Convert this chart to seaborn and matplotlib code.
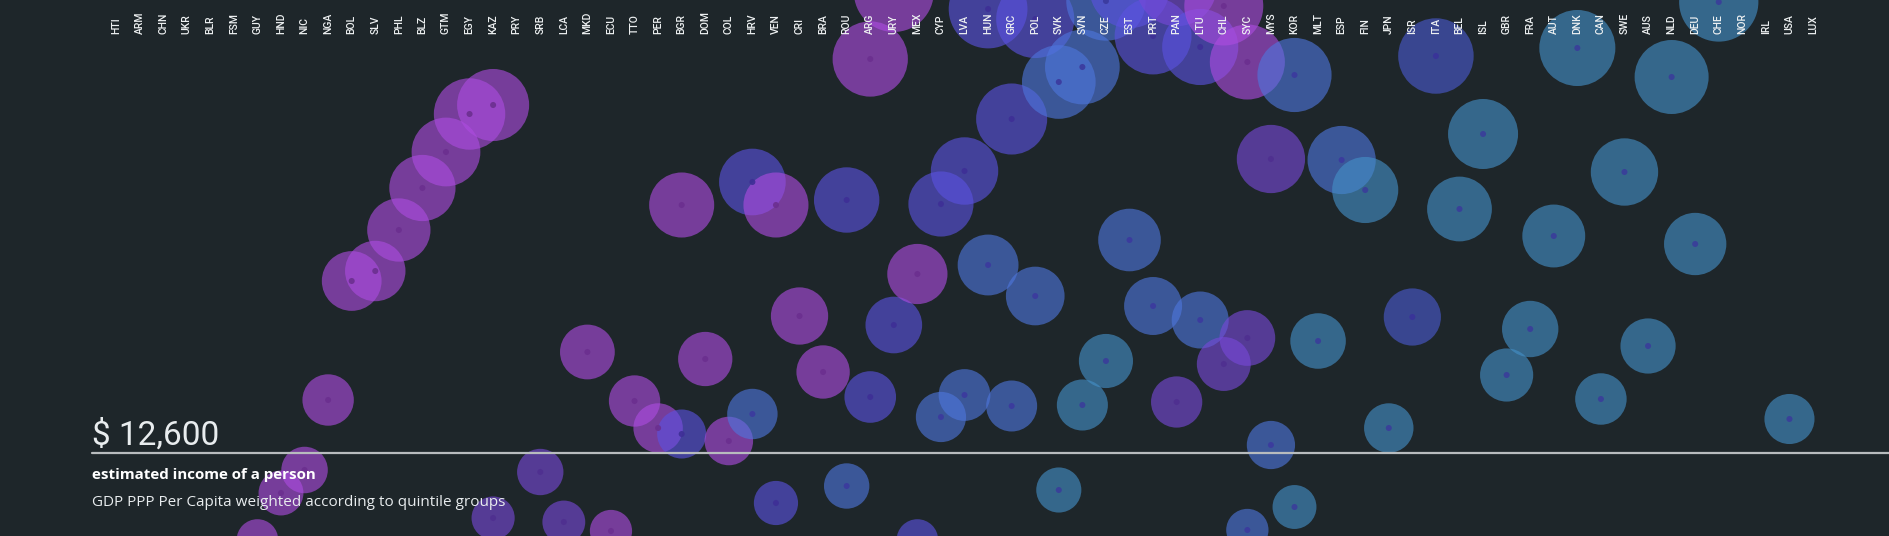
import numpy as np
import pandas as pd
import matplotlib
matplotlib.use("Agg")
import matplotlib.pyplot as plt
import seaborn as sns

# country columns, left (poor) to right (rich)
countries = ["HTI", "ARM", "CHN", "UKR", "BLR", "FSM", "GUY", "HND", "NIC", "NGA",
             "BOL", "SLV", "PHL", "BLZ", "GTM", "EGY", "KAZ", "PRY", "SRB", "LCA",
             "MKD", "ECU", "TTO", "PER", "BGR", "DOM", "COL", "HRV", "VEN", "CRI",
             "BRA", "ROU", "ARG", "URY", "MEX", "CYP", "LVA", "HUN", "GRC", "POL",
             "SVK", "SVN", "CZE", "EST", "PRT", "PAN", "LTU", "CHL", "SYC", "MYS",
             "KOR", "MLT", "ESP", "FIN", "JPN", "ISR", "ITA", "BEL", "ISL", "GBR",
             "FRA", "AUT", "DNK", "CAN", "SWE", "AUS", "NLD", "DEU", "CHE", "NOR",
             "IRL", "USA", "LUX"]

# visible bubbles: country, vertical position (px row, smaller = richer), colour group
bubble_country = ["GUY", "HND", "NIC", "NGA", "BOL", "SLV", "PHL", "BLZ", "GTM", "EGY",
                  "KAZ", "KAZ", "SRB", "LCA", "MKD", "ECU", "TTO", "PER", "BGR", "BGR",
                  "DOM", "COL", "HRV", "HRV", "VEN", "VEN", "CRI", "BRA", "ROU", "ROU",
                  "ARG", "ARG", "URY", "URY", "MEX", "MEX", "CYP", "CYP", "LVA", "LVA",
                  "HUN", "HUN", "GRC", "GRC", "POL", "POL", "SVK", "SVK", "SVN", "SVN",
                  "CZE", "CZE", "EST", "EST", "PRT", "PRT", "PAN", "PAN", "LTU", "LTU",
                  "CHL", "CHL", "SYC", "SYC", "SYC", "MYS", "MYS", "KOR", "KOR", "MLT",
                  "ESP", "FIN", "JPN", "ISR", "ITA", "BEL", "ISL", "GBR", "FRA", "AUT",
                  "DNK", "CAN", "SWE", "AUS", "NLD", "DEU", "CHE", "USA"]
bubble_row = [540, 493, 470, 400, 281, 271, 230, 188, 152, 114,
              105, 518, 472, 522, 352, 531, 401, 428, 205, 434,
              359, 441, 182, 414, 205, 503, 316, 372, 200, 486,
              59, 397, -8, 325, 274, 540, 204, 417, 171, 395,
              9, 265, 119, 406, 19, 296, 82, 490, 67, 405,
              1, 361, -12, 240, 36, 306, -14, 402, 47, 320,
              6, 364, 62, 338, 530, 159, 445, 75, 507, 341,
              160, 190, 428, 317, 56, 209, 134, 375, 329, 236,
              48, 399, 172, 346, 77, 244, 2, 419]
bubble_tone = ["purple", "purple", "purple", "purple", "purple", "purple", "purple", "purple", "purple", "purple",
               "purple", "violet", "violet", "violet", "purple", "purple", "purple", "purple", "purple", "indigo",
               "purple", "purple", "indigo", "steel", "purple", "indigo", "purple", "purple", "indigo", "steel",
               "purple", "indigo", "purple", "indigo", "purple", "indigo", "indigo", "steel", "indigo", "steel",
               "indigo", "steel", "indigo", "steel", "indigo", "steel", "steel", "teal", "steel", "teal",
               "steel", "teal", "indigo", "steel", "indigo", "steel", "violet", "violet", "indigo", "steel",
               "purple", "violet", "purple", "violet", "steel", "violet", "steel", "steel", "teal", "teal",
               "steel", "teal", "teal", "navy", "navy", "teal", "teal", "teal", "teal", "teal",
               "teal", "teal", "teal", "teal", "teal", "teal", "teal", "teal"]

headline = "$ 12,600"
subtitle = "estimated income of a person"
caption = "GDP PPP Per Capita weighted according to quintile groups"

BG = "#1e262a"
tone_fill = {"purple": "#ad4ce0", "violet": "#7748d8", "indigo": "#5b52e0",
             "navy": "#4a5ad0", "steel": "#4e76dd", "teal": "#4490c8"}
tone_dot = {"purple": "#6b2f8f", "violet": "#4f2f90", "indigo": "#3e2f96",
            "navy": "#3a329a", "steel": "#3b3a9e", "teal": "#3a3d9a"}

sns.set_style("dark", {"axes.facecolor": BG, "figure.facecolor": BG})
plt.rcParams["font.family"] = ["DejaVu Sans"]

df = pd.DataFrame({"country": bubble_country, "row": bubble_row, "tone": bubble_tone})
df["col"] = df["country"].map({c: i for i, c in enumerate(countries)})
# bubble radius grows with income (rows nearer the top are bigger)
radius_px = 39.7 - 0.035 * df["row"]
df["area"] = (2 * radius_px * 72 / 100) ** 2

W, H = 1889, 536
fig = plt.figure(figsize=(W / 100, H / 100), dpi=100)
ax = fig.add_axes([0, 0, 1, 1])
x0, step = 116, 23.57
ax.set_xlim(-x0 / step, (W - x0) / step)
ax.set_ylim(H, 0)

sns.scatterplot(data=df, x="col", y="row", hue="tone", palette=tone_fill,
                s=df["area"].to_numpy(), alpha=0.62, linewidth=0, legend=False, ax=ax)
sns.scatterplot(data=df, x="col", y="row", hue="tone", palette=tone_dot,
                s=19, alpha=0.9, linewidth=0, legend=False, ax=ax)

# country codes along the top
for i, code in enumerate(countries):
    ax.text(i, 34, code, rotation=90, ha="center", va="bottom",
            fontsize=7.5, color="#eef1f2", fontweight="medium",
            family=["Roboto", "DejaVu Sans"])

# reference line and headline block
ax.axhline(453, xmin=92 / W, xmax=1, color="#b8bcbe", lw=1.6)
fig.text(92 / W, 1 - 445 / H, headline, fontsize=24, color="#e8ecee",
         family=["Roboto", "DejaVu Sans"], va="baseline")
fig.text(92 / W, 1 - 479 / H, subtitle, fontsize=10.9, color="#ffffff",
         family=["Open Sans", "DejaVu Sans"], fontweight="bold", va="baseline")
fig.text(92 / W, 1 - 506 / H, caption, fontsize=11, color="#e8ecee",
         family=["Open Sans", "DejaVu Sans"], va="baseline")

ax.set_axis_off()
fig.savefig("out.png", dpi=100, facecolor=BG)
plt.close(fig)
